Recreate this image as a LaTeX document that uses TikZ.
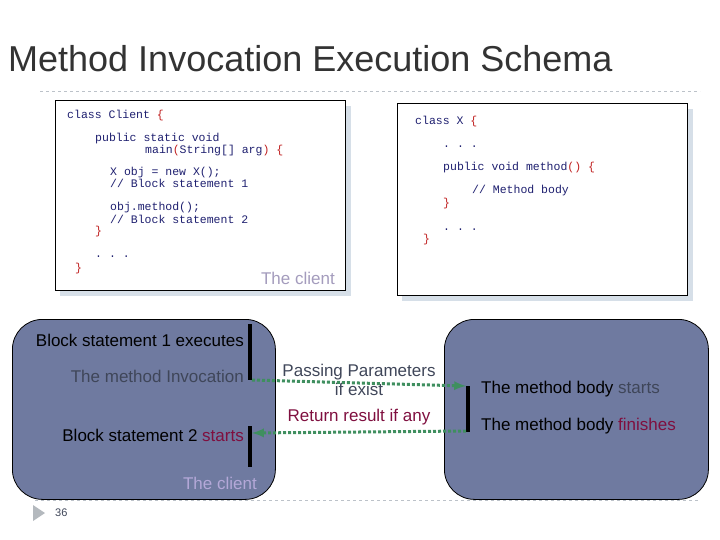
\documentclass[tikz,border=0pt]{standalone}
\usepackage{fontspec}
\setmainfont{Liberation Sans}
\setmonofont{Liberation Mono}
\definecolor{slate}{HTML}{6F7AA0}
\definecolor{navy}{HTML}{1F2070}
\definecolor{brace}{HTML}{C02020}
\definecolor{maroon}{HTML}{7F0F3F}
\definecolor{darkgray}{HTML}{3F4659}
\definecolor{lavender}{HTML}{B4A8D8}
\definecolor{dotgreen}{HTML}{3F8F5F}
\definecolor{shadow}{HTML}{D6DFE8}
\begin{document}
\begin{tikzpicture}[x=1pt, y=-1pt,
    code/.style = {anchor=base west, inner sep=0pt, font=\fontsize{11.5}{12}\ttfamily, text=navy},
    txt/.style = {inner sep=0pt, font=\fontsize{17}{19}\selectfont},
    codebox/.style = {draw, thick, fill=white},
    block/.style = {draw, thick, fill=slate, rounded corners=30pt},
    bar/.style = {line width=4pt},
    flow/.style = {dotgreen, line width=3pt, dotted, -latex}]
    \useasboundingbox (0,0) rectangle (720,540);
    \node[anchor=base west, inner sep=0pt, font=\fontsize{36}{40}\selectfont, text=black!80] (title) at (8,72) {Method Invocation Execution Schema};
    \draw[dashed, shadow!70!gray] (40,91) -- (700,91);
    \draw[dashed, shadow!70!gray] (35,500) -- (700,500);
    % code boxes
    \fill[shadow] (60,106) rectangle (351,296);
    \node[codebox, minimum width=290pt, minimum height=190pt, anchor=north west] (client) at (55,100) {};
    \fill[shadow] (402,109) rectangle (693,301);
    \node[codebox, minimum width=290pt, minimum height=192pt, anchor=north west] (xbox) at (397,103) {};
    \node[code] (c1) at (67,119) {class Client \textcolor{brace}{\{}};
    \node[code] (c2) at (95,142) {public static void};
    \node[code] (c3) at (145,154) {main\textcolor{brace}{(}String[] arg\textcolor{brace}{)} \textcolor{brace}{\{}};
    \node[code] (c4) at (110,176) {X obj = new X();};
    \node[code] (c5) at (110,188) {// Block statement 1};
    \node[code] (c6) at (110,211) {obj.method();};
    \node[code] (c7) at (110,223) {// Block statement 2};
    \node[code] (c8) at (95,235) {\textcolor{brace}{\}}};
    \node[code] (c9) at (95,258) {.\ .\ .};
    \node[code] (c10) at (75,271) {\textcolor{brace}{\}}};
    \node[txt, anchor=base east, text=lavender!70!gray] (clientlbl) at (335,284) {The client};
    \node[code] (x1) at (415,125) {class X \textcolor{brace}{\{}};
    \node[code] (x2) at (443,148) {.\ .\ .};
    \node[code] (x3) at (443,171) {public void method\textcolor{brace}{()} \textcolor{brace}{\{}};
    \node[code] (x4) at (472,194) {// Method body};
    \node[code] (x5) at (443,207) {\textcolor{brace}{\}}};
    \node[code] (x6) at (443,230) {.\ .\ .};
    \node[code] (x7) at (423,242) {\textcolor{brace}{\}}};
    % execution blocks
    \node[block, minimum width=263pt, minimum height=180pt, anchor=north west] (caller) at (12,319) {};
    \node[block, minimum width=264pt, minimum height=180pt, anchor=north west] (callee) at (444,319) {};
    \draw[bar] (250,324) -- (250,380);
    \draw[bar] (250,426) -- (250,467);
    \draw[bar] (468,386) -- (468,432);
    \node[txt, anchor=base east] (b1) at (244,346) {Block statement 1 executes};
    \node[txt, anchor=base east, text=darkgray] (inv) at (244,382) {The method Invocation};
    \node[txt, anchor=base east] (b2) at (244,441) {Block statement 2 \textcolor{maroon}{starts}};
    \node[txt, anchor=base east, text=lavender] (clientlbl2) at (257,489) {The client};
    \node[txt, anchor=base west] (m1) at (481,393) {The method body \textcolor{darkgray}{starts}};
    \node[txt, anchor=base west] (m2) at (481,430) {The method body \textcolor{maroon}{finishes}};
    \node[txt, align=center, text=darkgray] (pass) at (359,380) {Passing Parameters\\if exist};
    \node[txt, text=maroon] (ret) at (359,417) {Return result if any};
    \coordinate (callout) at (252,380);
    \coordinate (calleein) at (466,386);
    \coordinate (calleeout) at (466,431);
    \coordinate (callin) at (252,433);
    \draw[flow] (callout) -- (calleein);
    \draw[flow] (calleeout) -- (callin);
    % footer
    \fill[shadow!60!gray] (33,505) -- (45,513) -- (33,521) -- cycle;
    \node[anchor=west, inner sep=0pt, font=\fontsize{11}{12}\selectfont, text=darkgray] (page) at (55,513) {36};
\end{tikzpicture}
\end{document}
